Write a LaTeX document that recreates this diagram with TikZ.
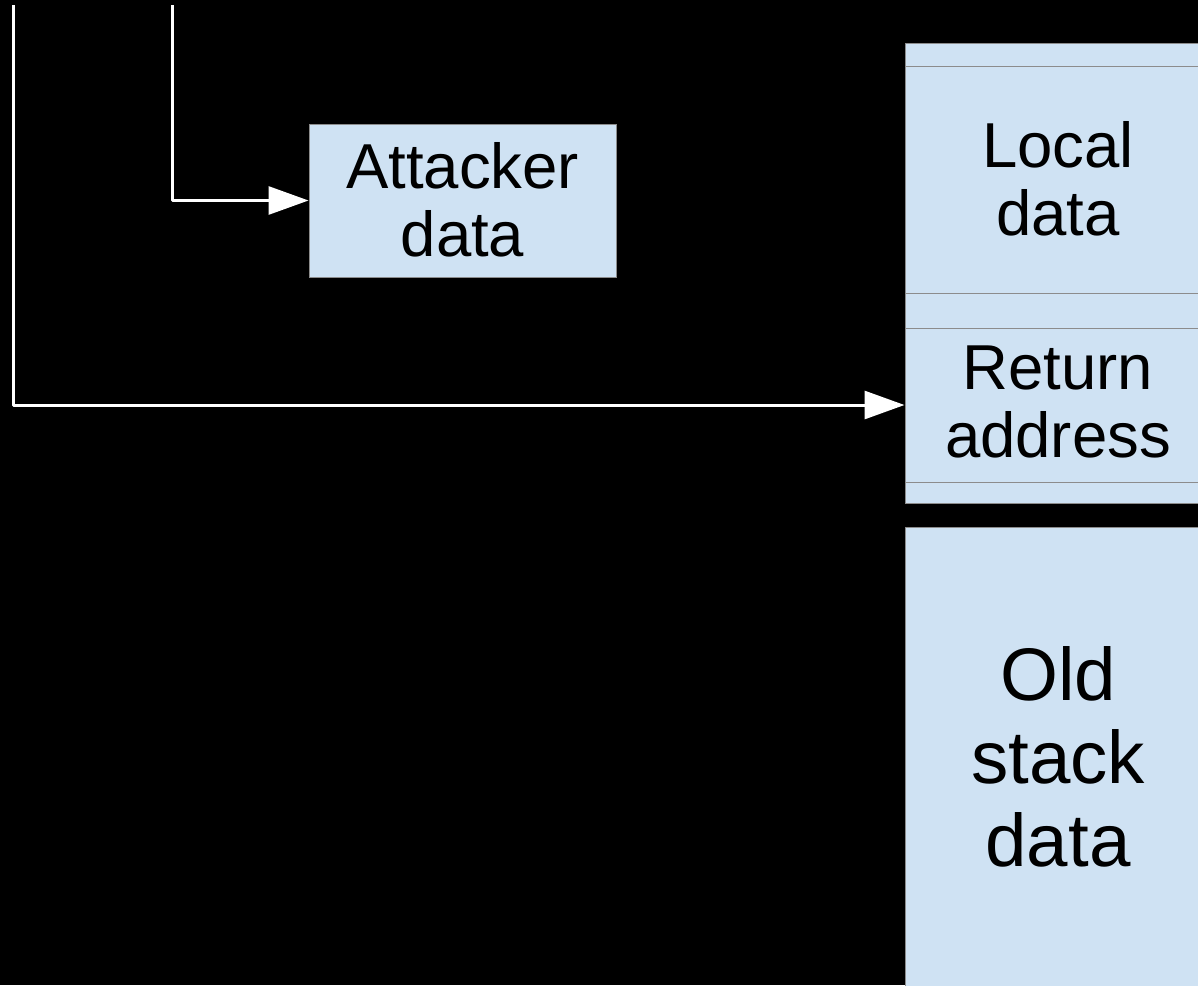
\documentclass[tikz,border=0pt]{standalone}
\usepackage{fontspec}
\setmainfont{Liberation Sans}
\usetikzlibrary{arrows.meta}
\definecolor{boxfill}{HTML}{CFE2F3}
\definecolor{boxline}{HTML}{8C8C8C}
\tikzset{
  cell/.style={draw=boxline, fill=boxfill, line width=1pt, inner sep=0pt, anchor=center},
  txt/.style={font=\fontsize{63.5}{68}\selectfont, align=center, text=black},
  bigtxt/.style={font=\fontsize{74.5}{83}\selectfont, align=center, text=black},
  wire/.style={draw=white, line width=3pt, line join=round},
  arr/.style={wire, -{Triangle[length=40pt,width=28pt]}}
}
\begin{document}
\begin{tikzpicture}[x=1pt,y=-1pt]
\fill[black] (0,0) rectangle (1198,985);
\useasboundingbox (0,0) rectangle (1198,985);
\clip (0,0) rectangle (1198,985);
% stack frame
\node[cell, minimum width=305pt, minimum height=460pt] (frame) at (1057.5,273) {};
\node[cell, minimum width=305pt, minimum height=227pt] (local) at (1057.5,179.5) {};
\node[cell, minimum width=305pt, minimum height=154pt] (ret) at (1057.5,405) {};
\node[txt] (localt) at (1058,179) {Local\\data};
\node[txt] (rett) at (1058,402) {Return\\address};
% old stack
\node[cell, minimum width=305pt, minimum height=460pt] (old) at (1057.5,757) {};
\node[bigtxt] (oldt) at (1058,757) {Old\\stack\\data};
% attacker
\node[cell, minimum width=307pt, minimum height=153pt] (att) at (462.5,200.5) {};
\node[txt] (attt) at (462.5,200) {Attacker\\data};
% connectors
\coordinate (s1) at (13,5);
\coordinate (s2) at (172,5);
\draw[arr] (s1) |- (ret.west);
\draw[arr] (s2) |- (att.west);
\end{tikzpicture}
\end{document}
